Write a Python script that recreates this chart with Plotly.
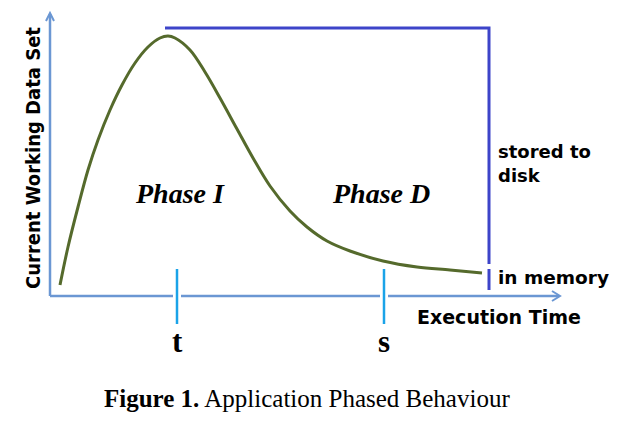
import plotly.graph_objects as go

# ---- data (time offset from y-axis, working-set height above x-axis) ----
curve_time = [10, 18, 28, 38, 48, 60, 72, 85, 98, 110, 118, 125, 140, 155, 170, 187, 203, 220, 240, 257, 277, 300, 333, 367, 400, 432]
curve_value = [11, 49, 89, 126, 156, 186, 211, 233, 249, 258, 260, 258, 246, 224, 198, 167, 138, 110, 85, 69, 55, 45, 35, 29, 26, 23]
tick_times = [127, 334]
tick_labels = ["t", "s"]
phase_labels = ["Phase I", "Phase D"]

# ---- geometry helpers: page pixel -> data coords ----
X0, Y0 = 50, 296
def X(px):
    return px - X0
def Y(py):
    return Y0 - py

AXIS = "#6b97d3"
TICK = "#1aa3e8"
BLUE = "#3d44c9"
GREEN = "#556a2c"

fig = go.Figure()
fig.add_trace(go.Scatter(x=curve_time, y=curve_value, mode="lines",
                         line=dict(color=GREEN, width=3, shape="spline", smoothing=1.0),
                         hoverinfo="skip", showlegend=False))

shapes = []
# axes
shapes.append(dict(type="line", x0=X(50), y0=Y(296), x1=X(50), y1=Y(14), line=dict(color=AXIS, width=2.5)))
shapes.append(dict(type="line", x0=X(50), y0=Y(296), x1=X(559), y1=Y(296), line=dict(color=AXIS, width=2.5)))
shapes.append(dict(type="path", path=f"M {X(46)} {Y(21)} L {X(50)} {Y(13)} L {X(54)} {Y(21)}",
                   line=dict(color=AXIS, width=2)))
shapes.append(dict(type="path", path=f"M {X(552)} {Y(291)} L {X(560)} {Y(296)} L {X(552)} {Y(301)}",
                   line=dict(color=AXIS, width=2)))
# gaps and tick marks
for t in tick_times:
    shapes.append(dict(type="line", x0=t - 4, y0=Y(296), x1=t + 4, y1=Y(296), line=dict(color="white", width=4)))
    shapes.append(dict(type="line", x0=t, y0=Y(269), x1=t, y1=Y(324), line=dict(color=TICK, width=2.5)))
# blue memory limit
shapes.append(dict(type="path", path=f"M {X(165)} {Y(28)} L {X(489)} {Y(28)} L {X(489)} {Y(264)}",
                   line=dict(color=BLUE, width=3)))
shapes.append(dict(type="line", x0=X(489), y0=Y(269), x1=X(489), y1=Y(290), line=dict(color=BLUE, width=3)))

ann = []
serif = "Liberation Serif"
sans = "DejaVu Sans"
for lbl, cx in zip(phase_labels, [180, 381]):
    ann.append(dict(x=X(cx), y=Y(193), text=f"<b><i>{lbl}</i></b>", showarrow=False,
                    font=dict(family=serif, size=28, color="black")))
for lbl, t in zip(tick_labels, tick_times):
    ann.append(dict(x=t, y=Y(341), text=f"<b>{lbl}</b>", showarrow=False,
                    font=dict(family=serif, size=31, color="black")))
ann.append(dict(x=X(496), y=Y(151), text="<b>stored to</b>", showarrow=False, xanchor="left",
                font=dict(family=sans, size=18, color="black")))
ann.append(dict(x=X(496), y=Y(175), text="<b>disk</b>", showarrow=False, xanchor="left",
                font=dict(family=sans, size=18, color="black")))
ann.append(dict(x=X(496), y=Y(277), text="<b>in memory</b>", showarrow=False, xanchor="left",
                font=dict(family=sans, size=18.5, color="black")))
ann.append(dict(x=X(415), y=Y(317), text="<b>Execution Time</b>", showarrow=False, xanchor="left",
                font=dict(family=sans, size=19, color="black")))
ann.append(dict(x=X(33), y=Y(158), text="<b>Current Working Data Set</b>", showarrow=False, textangle=-90,
                font=dict(family="DejaVu Sans Condensed", size=20, color="black")))
ann.append(dict(x=X(307), y=Y(398), text="<b>Figure 1.</b> Application Phased Behaviour", showarrow=False,
                font=dict(family=serif, size=25, color="black")))

fig.update_layout(width=620, height=428, margin=dict(l=0, r=0, t=0, b=0),
                  paper_bgcolor="white", plot_bgcolor="white",
                  xaxis=dict(range=[X(0), X(620)], visible=False, fixedrange=True),
                  yaxis=dict(range=[Y(428), Y(0)], visible=False, fixedrange=True),
                  shapes=shapes, annotations=ann, showlegend=False)
fig.write_html("out.html")
